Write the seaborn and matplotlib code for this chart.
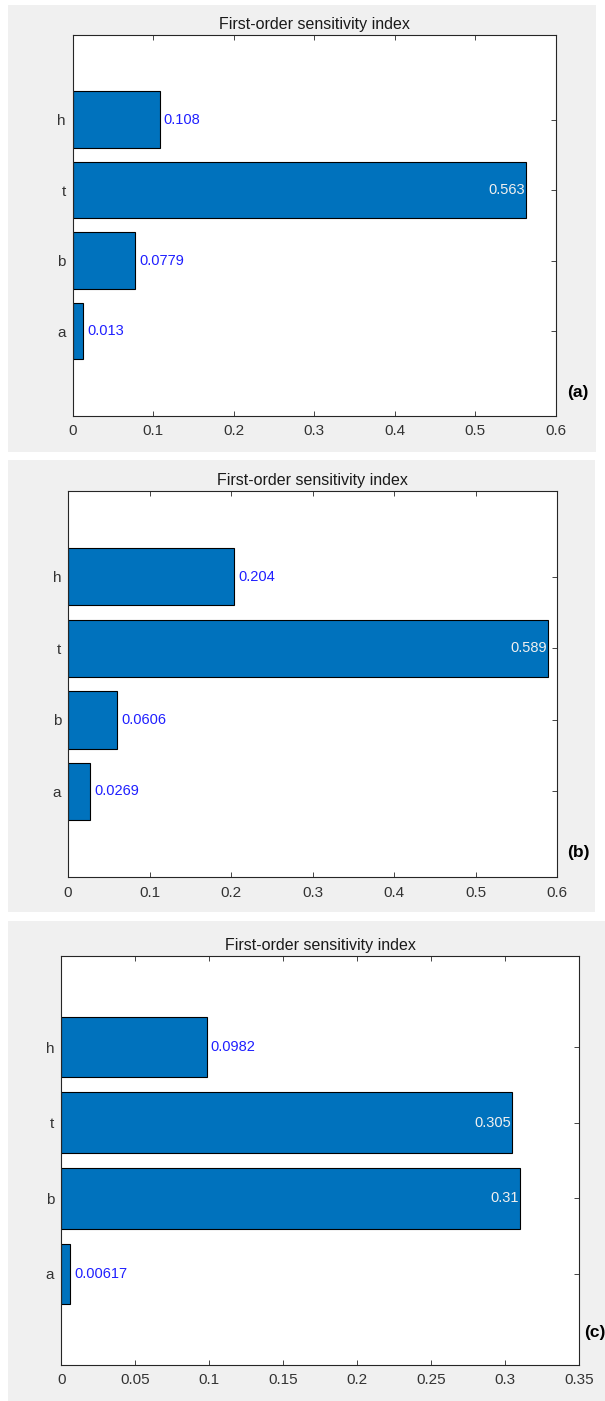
import numpy as np
import pandas as pd
import matplotlib
matplotlib.use("Agg")
import matplotlib.pyplot as plt
from matplotlib.patches import Rectangle
import seaborn as sns

# ---------------- data ----------------
params = ["a", "b", "t", "h"]                 # bottom -> top
values_a = [0.013, 0.0779, 0.563, 0.108]
values_b = [0.0269, 0.0606, 0.589, 0.204]
values_c = [0.00617, 0.31, 0.305, 0.0982]
panel_tags = ["(a)", "(b)", "(c)"]
title_text = "First-order sensitivity index"
xmax = [0.6, 0.6, 0.35]
xtick_steps = [0.1, 0.1, 0.05]

# ---------------- style ----------------
sns.set_theme(style="white")
plt.rcParams["font.family"] = ["Liberation Sans", "DejaVu Sans"]

W, H = 605, 1401
fig = plt.figure(figsize=(W / 100, H / 100), dpi=100)
fig.patch.set_facecolor("white")

BAR = "#0072BD"
AXC = "#262626"
TICKC = "#333333"
GRAY = "#F0F0F0"

# gray panel backgrounds (pixel boxes: x0, y0, x1, y1)
bg_boxes = [(8, 5, 595.7, 451.7), (8, 460, 594.7, 911.7), (8, 920.7, 605, 1401)]
for x0, y0, x1, y1 in bg_boxes:
    fig.patches.append(Rectangle((x0 / W, 1 - y1 / H), (x1 - x0) / W, (y1 - y0) / H,
                                 transform=fig.transFigure, facecolor=GRAY,
                                 edgecolor="none", zorder=-10))

# axes boxes in pixels: left, top, right, bottom
ax_boxes = [(72.7, 35, 555.7, 415.7), (68, 491, 557.3, 877.3), (61.3, 956.3, 579, 1364.7)]
tag_pos = [(577.5, 393, "center"), (578, 852.5, "center"), (584, 1333, "left")]

all_values = [values_a, values_b, values_c]
order = params[::-1]   # top -> bottom

for k, (vals, box) in enumerate(zip(all_values, ax_boxes)):
    l, t, r, b = box
    ax = fig.add_axes([l / W, 1 - b / H, (r - l) / W, (b - t) / H])
    df = pd.DataFrame({"param": params, "value": vals})
    sns.barplot(data=df, x="value", y="param", order=order, orient="h",
                color=BAR, saturation=1, edgecolor="black", linewidth=0.8,
                width=0.8, ax=ax)
    ax.set_facecolor("white")
    ax.set_xlim(0, xmax[k])
    ax.set_ylim(len(order) - 1 + 1.2, -1.2)
    ticks = np.round(np.arange(0, xmax[k] + 1e-9, xtick_steps[k]), 3)
    ax.set_xticks(ticks)
    ax.set_xticklabels([f"{v:g}" for v in ticks])
    ax.set_xlabel("")
    ax.set_ylabel("")
    for sp in ax.spines.values():
        sp.set_color(AXC)
        sp.set_linewidth(0.8)
        sp.set_visible(True)
    ax.tick_params(axis="both", which="both", direction="in", length=3.5, width=0.6,
                   color=AXC, labelcolor=TICKC, labelsize=11,
                   top=True, right=True, bottom=True, left=True)
    ax.tick_params(axis="x", pad=6)
    ax.tick_params(axis="y", pad=5)
    ax.set_title(title_text, fontsize=11.5, color="#1a1a1a", pad=4.5)

    vmax = max(vals)
    for i, p in enumerate(order):
        v = vals[params.index(p)]
        lab = f"{v:.3g}"
        if v > 0.8 * vmax:
            ax.annotate(lab, xy=(v, i), xytext=(-1, 0), textcoords="offset points",
                        ha="right", va="center", fontsize=10.5, color="#F0F0F0")
        else:
            ax.annotate(lab, xy=(v, i), xytext=(3, 0), textcoords="offset points",
                        ha="left", va="center", fontsize=10.5, color="#1F1FFF")

    tx, ty, ha = tag_pos[k]
    fig.text(tx / W, 1 - ty / H, panel_tags[k], ha=ha, va="center",
             fontsize=12.5, fontweight="bold", color="black")

fig.savefig("out.png", dpi=100)
